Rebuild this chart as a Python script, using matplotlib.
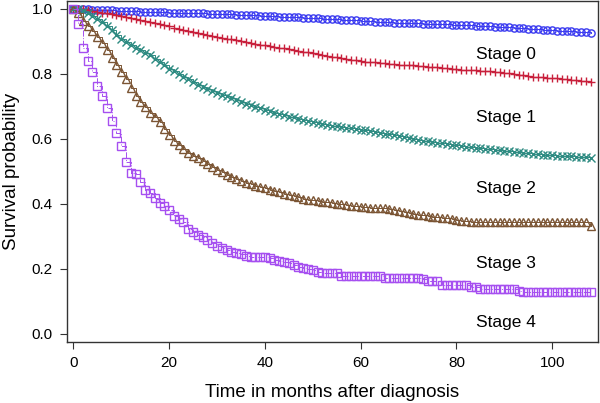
import numpy as np, matplotlib
matplotlib.use('Agg')
import matplotlib.pyplot as plt

plt.rcParams.update({'font.family': ['Liberation Sans', 'DejaVu Sans'], 'font.size': 11})

BLUE = '#3a3af0'; RED = '#c8203c'; TEAL = '#2e8b82'; BROWN = '#7b5534'; PURPLE = '#a64ff0'

months = np.arange(0, 109)

stage0 = [1.000, 1.000, 0.999, 0.998, 0.997, 0.997, 0.996, 0.995, 0.995, 0.994, 0.993,
          0.993, 0.992, 0.992, 0.991, 0.991, 0.990, 0.990, 0.989, 0.989, 0.988,
          0.988, 0.987, 0.987, 0.986, 0.986, 0.985, 0.985, 0.984, 0.984, 0.983,
          0.983, 0.982, 0.982, 0.981, 0.981, 0.980, 0.979, 0.979, 0.978, 0.977,
          0.977, 0.976, 0.975, 0.975, 0.974, 0.973, 0.973, 0.972, 0.971, 0.970,
          0.970, 0.969, 0.968, 0.967, 0.967, 0.966, 0.965, 0.964, 0.964, 0.963,
          0.962, 0.961, 0.960, 0.960, 0.959, 0.958, 0.957, 0.957, 0.956, 0.956,
          0.955, 0.955, 0.954, 0.954, 0.953, 0.953, 0.952, 0.952, 0.951, 0.951,
          0.950, 0.950, 0.949, 0.948, 0.947, 0.946, 0.945, 0.944, 0.944, 0.943,
          0.942, 0.941, 0.940, 0.939, 0.938, 0.937, 0.936, 0.935, 0.934, 0.933,
          0.932, 0.931, 0.931, 0.930, 0.929, 0.928, 0.927, 0.926]

stage1 = [1.000, 1.000, 0.999, 0.996, 0.993, 0.991, 0.988, 0.985, 0.983, 0.980, 0.977,
          0.975, 0.972, 0.969, 0.966, 0.963, 0.960, 0.956, 0.952, 0.949, 0.945,
          0.941, 0.937, 0.934, 0.931, 0.928, 0.925, 0.922, 0.920, 0.917, 0.914,
          0.911, 0.908, 0.905, 0.902, 0.899, 0.896, 0.894, 0.892, 0.889, 0.887,
          0.885, 0.882, 0.880, 0.878, 0.875, 0.873, 0.870, 0.868, 0.865, 0.863,
          0.860, 0.858, 0.855, 0.852, 0.850, 0.848, 0.846, 0.843, 0.841, 0.839,
          0.837, 0.836, 0.835, 0.834, 0.832, 0.831, 0.830, 0.828, 0.827, 0.826,
          0.825, 0.824, 0.823, 0.821, 0.820, 0.819, 0.818, 0.816, 0.815, 0.813,
          0.811, 0.811, 0.810, 0.810, 0.809, 0.808, 0.807, 0.806, 0.805, 0.803,
          0.801, 0.799, 0.797, 0.795, 0.793, 0.791, 0.790, 0.789, 0.787, 0.786,
          0.785, 0.784, 0.783, 0.781, 0.780, 0.778, 0.777, 0.775]

stage2 = [1.000, 1.000, 0.993, 0.985, 0.976, 0.968, 0.958, 0.948, 0.935, 0.920, 0.905,
          0.896, 0.888, 0.880, 0.872, 0.864, 0.857, 0.846, 0.835, 0.825, 0.815,
          0.808, 0.800, 0.791, 0.782, 0.774, 0.765, 0.758, 0.752, 0.746, 0.740,
          0.735, 0.730, 0.724, 0.718, 0.712, 0.706, 0.702, 0.698, 0.693, 0.689,
          0.684, 0.680, 0.676, 0.672, 0.668, 0.665, 0.661, 0.658, 0.654, 0.650,
          0.647, 0.645, 0.642, 0.640, 0.638, 0.636, 0.634, 0.632, 0.630, 0.628,
          0.625, 0.623, 0.620, 0.618, 0.615, 0.613, 0.610, 0.607, 0.604, 0.601,
          0.598, 0.596, 0.594, 0.592, 0.590, 0.588, 0.585, 0.583, 0.581, 0.579,
          0.577, 0.575, 0.573, 0.572, 0.570, 0.569, 0.567, 0.566, 0.564, 0.563,
          0.561, 0.560, 0.558, 0.557, 0.555, 0.554, 0.552, 0.551, 0.550, 0.549,
          0.548, 0.547, 0.546, 0.545, 0.544, 0.543, 0.542, 0.541]

stage3 = [1.000, 0.985, 0.962, 0.945, 0.930, 0.912, 0.895, 0.872, 0.847, 0.827, 0.805,
          0.782, 0.757, 0.732, 0.713, 0.697, 0.680, 0.666, 0.650, 0.631, 0.612,
          0.594, 0.580, 0.568, 0.557, 0.548, 0.540, 0.532, 0.522, 0.512, 0.504,
          0.496, 0.488, 0.481, 0.475, 0.469, 0.464, 0.459, 0.455, 0.451, 0.447,
          0.443, 0.439, 0.435, 0.431, 0.427, 0.423, 0.419, 0.415, 0.412, 0.410,
          0.408, 0.406, 0.404, 0.402, 0.400, 0.398, 0.396, 0.394, 0.392, 0.391,
          0.389, 0.388, 0.387, 0.386, 0.385, 0.383, 0.380, 0.377, 0.374, 0.371,
          0.368, 0.366, 0.364, 0.362, 0.360, 0.358, 0.357, 0.355, 0.352, 0.349,
          0.347, 0.345, 0.343, 0.342, 0.342, 0.342, 0.342, 0.342, 0.342, 0.342,
          0.342, 0.342, 0.342, 0.342, 0.342, 0.342, 0.342, 0.342, 0.342, 0.342,
          0.342, 0.342, 0.342, 0.342, 0.342, 0.342, 0.342, 0.332]

stage4 = [1.000, 0.952, 0.880, 0.838, 0.805, 0.762, 0.732, 0.694, 0.655, 0.618, 0.578,
          0.529, 0.495, 0.490, 0.466, 0.442, 0.432, 0.418, 0.401, 0.394, 0.380,
          0.362, 0.353, 0.342, 0.322, 0.312, 0.304, 0.296, 0.287, 0.279, 0.270,
          0.263, 0.258, 0.252, 0.248, 0.244, 0.240, 0.237, 0.235, 0.235, 0.235,
          0.232, 0.228, 0.224, 0.221, 0.216, 0.211, 0.206, 0.203, 0.199, 0.195,
          0.191, 0.188, 0.188, 0.188, 0.188, 0.178, 0.178, 0.178, 0.178, 0.178,
          0.178, 0.178, 0.178, 0.178, 0.172, 0.172, 0.172, 0.172, 0.172, 0.172,
          0.172, 0.172, 0.167, 0.163, 0.163, 0.163, 0.150, 0.150, 0.150, 0.150,
          0.150, 0.150, 0.143, 0.143, 0.137, 0.137, 0.137, 0.137, 0.137, 0.137,
          0.137, 0.137, 0.132, 0.127, 0.127, 0.127, 0.127, 0.127, 0.127, 0.127,
          0.127, 0.127, 0.127, 0.127, 0.127, 0.127, 0.127, 0.127]

labels = ['Stage 0', 'Stage 1', 'Stage 2', 'Stage 3', 'Stage 4']
label_y = [0.858, 0.664, 0.445, 0.217, 0.033]
label_x = 90.4

series = [(stage0, BLUE, 'o', '-'), (stage1, RED, '+', '-'), (stage2, TEAL, 'x', '-'),
          (stage3, BROWN, '^', '-'), (stage4, PURPLE, 's', '-.')]

fig = plt.figure(figsize=(6, 4.03), dpi=100)
ax = fig.add_axes([0.111, 0.152, 0.886, 0.846])

for vals, col, mk, ls in series:
    ax.plot(months, vals, color=col, linewidth=0.7, linestyle=ls, drawstyle='steps-post')
    ax.plot(months, vals, color=col, linestyle='none', marker=mk, markersize=5.2,
            markerfacecolor='none', markeredgewidth=1.0)

for name, yv in zip(labels, label_y):
    ax.text(label_x, yv, name, fontsize=12.5, ha='center', va='center', color='black')

ax.set_xlim(-1.4, 109.6)
ax.set_ylim(-0.025, 1.024)
ax.set_xticks([0, 20, 40, 60, 80, 100])
ax.set_yticks([0.0, 0.2, 0.4, 0.6, 0.8, 1.0])
ax.set_yticklabels(['0.0', '0.2', '0.4', '0.6', '0.8', '1.0'])
ax.tick_params(length=5, width=0.8, pad=5, labelsize=11, color='#333333')
for s in ax.spines.values():
    s.set_linewidth(1.0); s.set_color('#333333')
ax.set_xlabel('Time in months after diagnosis', fontsize=13.5, labelpad=10)
ax.set_ylabel('Survival probability', fontsize=13.5, labelpad=8)

fig.savefig('out.png', dpi=100)
